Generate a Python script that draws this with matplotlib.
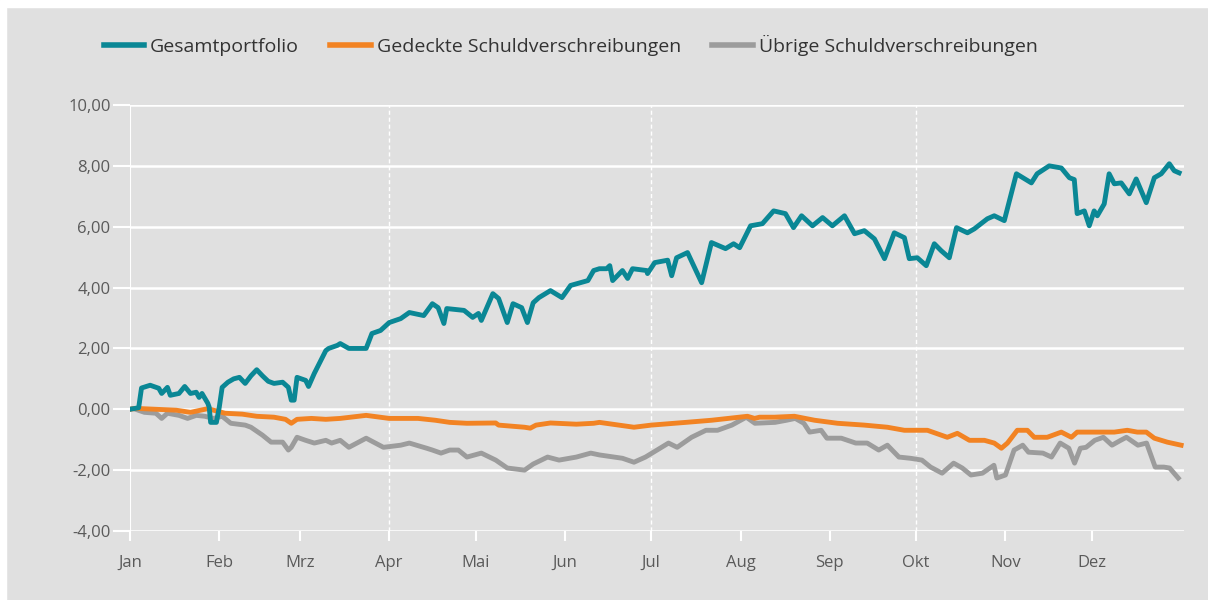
import matplotlib
matplotlib.use("Agg")
import matplotlib.pyplot as plt
from matplotlib.patches import Rectangle

# day-of-year / value pairs
gesamt_days = [0, 3, 4, 7, 10, 11, 13, 14, 17, 19, 21, 23, 24, 25, 27, 27.5, 28, 30, 31, 32,
               34, 36, 38, 40, 42, 44, 46, 48, 50, 53, 55, 56, 57, 58, 61, 62, 64, 68, 69, 72,
               73, 76, 82, 84, 87, 90, 94, 97, 102, 105, 107, 109, 110, 116, 119, 121, 122, 126, 128, 131,
               133, 136, 138, 140, 142, 146, 150, 153, 159, 161, 163, 165.5, 166.6, 167.6, 171, 172.8, 174.5, 179.4, 179.7, 182.2,
               186.7, 188.1, 189.8, 193.6, 198.5, 201.9, 206.8, 209.6, 211.7, 215.5, 219.6, 223.5, 227.6, 230.4, 233.2, 237, 240.5, 243.9, 248.1, 251.6,
               255, 258.5, 262, 265.4, 268.9, 270.6, 273.4, 276.5, 279.3, 281.7, 284.5, 287, 290.8, 293.2, 297.7, 300.1, 303.6, 307.8, 313, 315,
               319.2, 323.4, 326.2, 327.9, 328.9, 331.4, 333.1, 334.8, 335.9, 338.3, 340, 341.8, 344.2, 347, 349.4, 352.9, 355.7, 358.1, 360.9, 362.6, 364.3]
gesamt_vals = [0.0, 0.05, 0.7, 0.79, 0.69, 0.52, 0.72, 0.46, 0.52, 0.75, 0.52, 0.56, 0.39, 0.52, 0.2, 0.07, -0.43, -0.43, 0.07, 0.72,
               0.89, 1.0, 1.05, 0.85, 1.1, 1.3, 1.1, 0.92, 0.85, 0.89, 0.72, 0.3, 0.3, 1.05, 0.95, 0.75, 1.18, 1.93, 2.0, 2.1,
               2.16, 2.0, 2.0, 2.49, 2.59, 2.85, 2.98, 3.18, 3.08, 3.47, 3.34, 2.82, 3.31, 3.25, 3.02, 3.15, 2.92, 3.8, 3.64, 2.85,
               3.47, 3.34, 2.85, 3.5, 3.67, 3.9, 3.67, 4.07, 4.23, 4.56, 4.62, 4.62, 4.72, 4.23, 4.56, 4.3, 4.62, 4.56, 4.46, 4.82,
               4.9, 4.39, 4.98, 5.15, 4.16, 5.48, 5.28, 5.44, 5.31, 6.03, 6.1, 6.52, 6.43, 5.97, 6.36, 6.03, 6.3, 6.03, 6.36, 5.77,
               5.87, 5.6, 4.95, 5.8, 5.64, 4.95, 4.98, 4.72, 5.44, 5.21, 4.98, 5.97, 5.8, 5.93, 6.26, 6.36, 6.2, 7.74, 7.44, 7.74,
               8.0, 7.93, 7.61, 7.55, 6.43, 6.52, 6.03, 6.52, 6.36, 6.75, 7.74, 7.41, 7.44, 7.08, 7.57, 6.79, 7.61, 7.74, 8.07, 7.84, 7.77]

gedeckt_days = [0, 2, 9, 16, 21, 27, 33, 39, 44, 50, 54, 56, 58, 63, 68, 73, 82, 90, 100, 106,
                111, 117, 127, 128, 137, 139, 141, 146, 155, 161, 163, 175, 181, 193, 202, 214.4, 216.9, 218.6, 223.8, 230.7,
                237.7, 245.7, 255, 263, 268.9, 276.9, 283.8, 287.3, 291.5, 296.7, 300.1, 302.6, 304.7, 308.1, 311.6, 314, 318.5, 323.4, 326.9, 328.9,
                335.9, 341.8, 346.3, 349.8, 352.9, 355.7, 360.2, 365]
gedeckt_vals = [0.0, 0.03, 0.0, -0.03, -0.1, 0.02, -0.13, -0.16, -0.23, -0.26, -0.33, -0.46, -0.33, -0.3, -0.33, -0.3, -0.2, -0.3, -0.3, -0.36,
                -0.43, -0.46, -0.45, -0.52, -0.59, -0.62, -0.52, -0.45, -0.49, -0.46, -0.43, -0.59, -0.52, -0.43, -0.36, -0.23, -0.3, -0.26, -0.26, -0.23,
                -0.36, -0.46, -0.52, -0.59, -0.69, -0.69, -0.92, -0.79, -1.02, -1.02, -1.11, -1.28, -1.11, -0.69, -0.69, -0.92, -0.92, -0.75, -0.92, -0.75,
                -0.75, -0.75, -0.69, -0.75, -0.75, -0.95, -1.08, -1.18]

uebrige_days = [0, 1, 5, 9, 11, 13, 17, 20, 23, 26, 29, 32, 35, 40, 42, 46, 49, 53, 55, 56,
                58, 61, 64, 68, 70, 73, 76, 82, 88, 94, 97, 103, 105, 108, 111, 114, 117, 122, 127, 131,
                137, 140, 145, 149, 155, 160, 163, 171, 175, 179, 183, 187, 190, 195, 200, 204, 209, 214, 217, 224,
                228, 231, 234, 236, 240, 242, 247, 252, 256, 260, 263, 267, 271, 275, 278, 282, 286, 289, 292, 296,
                300, 301, 304, 307, 310, 312, 317, 320, 323, 326, 328, 330, 332, 335, 338, 341, 344, 346, 350, 353,
                356, 359, 361, 364]
uebrige_vals = [0.0, 0.03, -0.1, -0.13, -0.3, -0.13, -0.2, -0.3, -0.2, -0.23, -0.3, -0.23, -0.46, -0.52, -0.59, -0.85, -1.08, -1.08, -1.34, -1.25,
                -0.92, -1.02, -1.11, -1.02, -1.11, -1.02, -1.25, -0.95, -1.25, -1.18, -1.11, -1.28, -1.34, -1.44, -1.34, -1.34, -1.57, -1.44, -1.67, -1.93,
                -2.0, -1.8, -1.57, -1.67, -1.57, -1.44, -1.5, -1.61, -1.74, -1.57, -1.34, -1.11, -1.25, -0.92, -0.69, -0.69, -0.52, -0.26, -0.46, -0.43,
                -0.36, -0.3, -0.46, -0.75, -0.69, -0.95, -0.95, -1.11, -1.11, -1.34, -1.18, -1.57, -1.61, -1.67, -1.9, -2.1, -1.77, -1.93, -2.16, -2.1,
                -1.84, -2.26, -2.16, -1.34, -1.18, -1.41, -1.44, -1.57, -1.11, -1.28, -1.77, -1.28, -1.25, -1.02, -0.92, -1.18, -1.02, -0.92, -1.18, -1.11,
                -1.9, -1.9, -1.93, -2.26]

month_starts = [0, 31, 59, 90, 120, 151, 181, 212, 243, 273, 304, 334]
month_labels = ["Jan", "Feb", "Mrz", "Apr", "Mai", "Jun", "Jul", "Aug", "Sep", "Okt", "Nov", "Dez"]
y_ticks = [-4, -2, 0, 2, 4, 6, 8, 10]
series_names = ["Gesamtportfolio", "Gedeckte Schuldverschreibungen", "Übrige Schuldverschreibungen"]

BG = "#e0e0e0"
TEAL = "#0a8795"
ORANGE = "#f28323"
GREY = "#9c9c9c"
TXT = "#5a5a5a"

plt.rcParams["font.family"] = ["Open Sans", "DejaVu Sans"]

fig = plt.figure(figsize=(12.08, 6.0), dpi=100, facecolor=BG)
# white margin strips of the scanned page
fig.patches.append(Rectangle((0, 1 - 7 / 600), 1, 7 / 600, transform=fig.transFigure,
                             color="white", zorder=0))
fig.patches.append(Rectangle((0, 0), 6 / 1208, 1, transform=fig.transFigure,
                             color="white", zorder=0))

ax = fig.add_axes([130 / 1208, 1 - 531 / 600, (1184 - 130) / 1208, (531 - 105) / 600])
ax.set_facecolor(BG)

ax.plot(gesamt_days, gesamt_vals, color=TEAL, lw=3.5, label=series_names[0],
        solid_joinstyle="round", zorder=4)
ax.plot(gedeckt_days, gedeckt_vals, color=ORANGE, lw=3.5, label=series_names[1],
        solid_joinstyle="round", zorder=3)
ax.plot(uebrige_days, uebrige_vals, color=GREY, lw=3.5, label=series_names[2],
        solid_joinstyle="round", zorder=2)

ax.set_xlim(0, 366)
ax.set_ylim(-4, 10)

# horizontal white gridlines, vertical dashed ones per quarter
for yv in y_ticks:
    ax.axhline(yv, color="white", lw=1.8, zorder=1)
for d in month_starts[3::3]:
    ax.axvline(d, color="white", lw=1.0, ls=(0, (3, 2)), zorder=1)
ax.axvline(0, color="white", lw=1.5, zorder=1)

for s in ax.spines.values():
    s.set_visible(False)

ax.set_yticks(y_ticks)
ax.set_yticklabels([f"{v:.2f}".replace(".", ",") for v in y_ticks])
ax.set_xticks(month_starts)
ax.set_xticklabels(month_labels)
ax.tick_params(axis="y", length=12, width=1.5, color="white", pad=2,
               labelsize=12, labelcolor=TXT)
ax.tick_params(axis="x", length=7, width=1.5, color="white", pad=10,
               labelsize=12, labelcolor=TXT)

leg = fig.legend(loc="center left", bbox_to_anchor=(86 / 1208, 1 - 45 / 600), ncol=3,
                 frameon=False, fontsize=14, handlelength=2.1, handletextpad=0.3,
                 columnspacing=1.6, labelcolor="#333333")
for h in leg.get_lines():
    h.set_linewidth(4)

fig.savefig("out.png", dpi=100, facecolor=BG)
